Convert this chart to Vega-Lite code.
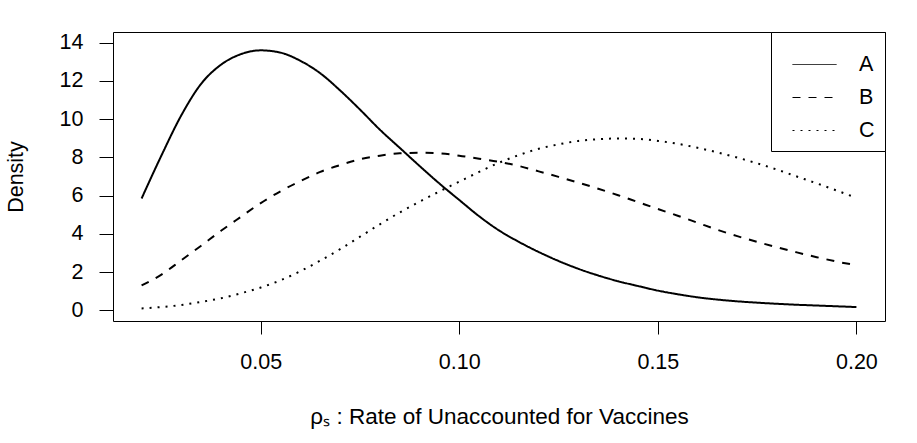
{
  "$schema": "https://vega.github.io/schema/vega-lite/v6.json",
  "width": 772,
  "height": 289,
  "autosize": "none",
  "padding": {"left": 113, "top": 32, "right": 32, "bottom": 122},
  "background": "white",
  "config": {
    "font": "Liberation Sans",
    "view": {"stroke": "black", "strokeWidth": 1},
    "axis": {"grid": false, "domain": false, "tickColor": "black", "labelColor": "black", "titleColor": "black", "labelFontSize": 21.5, "titleFontSize": 21.5, "titleFontWeight": "normal", "labelFont": "Liberation Sans", "titleFont": "Liberation Sans"}
  },
  "data": {"values": [
    {"x":0.020,"y":5.85,"s":"A"},{"x":0.025,"y":8.1,"s":"A"},{"x":0.030,"y":10.2,"s":"A"},{"x":0.035,"y":11.85,"s":"A"},{"x":0.040,"y":12.85,"s":"A"},{"x":0.045,"y":13.4,"s":"A"},{"x":0.050,"y":13.6,"s":"A"},{"x":0.055,"y":13.48,"s":"A"},{"x":0.060,"y":13.05,"s":"A"},{"x":0.065,"y":12.4,"s":"A"},{"x":0.070,"y":11.5,"s":"A"},{"x":0.075,"y":10.5,"s":"A"},{"x":0.080,"y":9.45,"s":"A"},{"x":0.085,"y":8.5,"s":"A"},{"x":0.090,"y":7.55,"s":"A"},{"x":0.095,"y":6.63,"s":"A"},{"x":0.100,"y":5.77,"s":"A"},{"x":0.105,"y":4.92,"s":"A"},{"x":0.110,"y":4.18,"s":"A"},{"x":0.115,"y":3.58,"s":"A"},{"x":0.120,"y":3.05,"s":"A"},{"x":0.125,"y":2.58,"s":"A"},{"x":0.130,"y":2.17,"s":"A"},{"x":0.135,"y":1.82,"s":"A"},{"x":0.140,"y":1.52,"s":"A"},{"x":0.145,"y":1.27,"s":"A"},{"x":0.150,"y":1.03,"s":"A"},{"x":0.155,"y":0.84,"s":"A"},{"x":0.160,"y":0.68,"s":"A"},{"x":0.165,"y":0.56,"s":"A"},{"x":0.170,"y":0.47,"s":"A"},{"x":0.175,"y":0.40,"s":"A"},{"x":0.180,"y":0.34,"s":"A"},{"x":0.185,"y":0.29,"s":"A"},{"x":0.190,"y":0.25,"s":"A"},{"x":0.195,"y":0.21,"s":"A"},{"x":0.200,"y":0.17,"s":"A"},
    {"x":0.020,"y":1.3,"s":"B"},{"x":0.025,"y":1.87,"s":"B"},{"x":0.030,"y":2.62,"s":"B"},{"x":0.035,"y":3.38,"s":"B"},{"x":0.040,"y":4.16,"s":"B"},{"x":0.045,"y":4.89,"s":"B"},{"x":0.050,"y":5.61,"s":"B"},{"x":0.055,"y":6.23,"s":"B"},{"x":0.060,"y":6.76,"s":"B"},{"x":0.065,"y":7.24,"s":"B"},{"x":0.070,"y":7.6,"s":"B"},{"x":0.075,"y":7.9,"s":"B"},{"x":0.080,"y":8.09,"s":"B"},{"x":0.085,"y":8.21,"s":"B"},{"x":0.090,"y":8.24,"s":"B"},{"x":0.095,"y":8.21,"s":"B"},{"x":0.100,"y":8.09,"s":"B"},{"x":0.105,"y":7.93,"s":"B"},{"x":0.110,"y":7.77,"s":"B"},{"x":0.115,"y":7.55,"s":"B"},{"x":0.120,"y":7.27,"s":"B"},{"x":0.125,"y":6.98,"s":"B"},{"x":0.130,"y":6.68,"s":"B"},{"x":0.135,"y":6.36,"s":"B"},{"x":0.140,"y":6.02,"s":"B"},{"x":0.145,"y":5.66,"s":"B"},{"x":0.150,"y":5.3,"s":"B"},{"x":0.155,"y":4.95,"s":"B"},{"x":0.160,"y":4.58,"s":"B"},{"x":0.165,"y":4.21,"s":"B"},{"x":0.170,"y":3.88,"s":"B"},{"x":0.175,"y":3.58,"s":"B"},{"x":0.180,"y":3.3,"s":"B"},{"x":0.185,"y":3.03,"s":"B"},{"x":0.190,"y":2.78,"s":"B"},{"x":0.195,"y":2.55,"s":"B"},{"x":0.200,"y":2.36,"s":"B"},
    {"x":0.020,"y":0.1,"s":"C"},{"x":0.025,"y":0.17,"s":"C"},{"x":0.030,"y":0.28,"s":"C"},{"x":0.035,"y":0.44,"s":"C"},{"x":0.040,"y":0.63,"s":"C"},{"x":0.045,"y":0.89,"s":"C"},{"x":0.050,"y":1.19,"s":"C"},{"x":0.055,"y":1.57,"s":"C"},{"x":0.060,"y":2.05,"s":"C"},{"x":0.065,"y":2.6,"s":"C"},{"x":0.070,"y":3.2,"s":"C"},{"x":0.075,"y":3.85,"s":"C"},{"x":0.080,"y":4.5,"s":"C"},{"x":0.085,"y":5.12,"s":"C"},{"x":0.090,"y":5.68,"s":"C"},{"x":0.095,"y":6.22,"s":"C"},{"x":0.100,"y":6.73,"s":"C"},{"x":0.105,"y":7.24,"s":"C"},{"x":0.110,"y":7.72,"s":"C"},{"x":0.115,"y":8.12,"s":"C"},{"x":0.120,"y":8.45,"s":"C"},{"x":0.125,"y":8.68,"s":"C"},{"x":0.130,"y":8.86,"s":"C"},{"x":0.135,"y":8.95,"s":"C"},{"x":0.140,"y":8.99,"s":"C"},{"x":0.145,"y":8.97,"s":"C"},{"x":0.150,"y":8.86,"s":"C"},{"x":0.155,"y":8.71,"s":"C"},{"x":0.160,"y":8.5,"s":"C"},{"x":0.165,"y":8.26,"s":"C"},{"x":0.170,"y":7.99,"s":"C"},{"x":0.175,"y":7.69,"s":"C"},{"x":0.180,"y":7.36,"s":"C"},{"x":0.185,"y":7.0,"s":"C"},{"x":0.190,"y":6.64,"s":"C"},{"x":0.195,"y":6.27,"s":"C"},{"x":0.200,"y":5.88,"s":"C"}
  ]},
  "mark": {"type": "line", "color": "black", "strokeWidth": 2, "interpolate": "monotone"},
  "encoding": {
    "x": {"field": "x", "type": "quantitative",
      "scale": {"domain": [0.0128, 0.2072], "nice": false, "zero": false},
      "axis": {"values": [0.05, 0.1, 0.15, 0.2], "format": ".2f", "tickSize": 13, "labelPadding": 17, "title": "ρₛ : Rate of Unaccounted for Vaccines", "titleFontSize": 22.5, "titlePadding": 33}},
    "y": {"field": "y", "type": "quantitative",
      "scale": {"domain": [-0.56, 14.56], "nice": false, "zero": false},
      "axis": {"values": [0, 2, 4, 6, 8, 10, 12, 14], "tickSize": 14, "labelPadding": 16, "title": "Density", "titlePadding": 32}},
    "strokeDash": {"field": "s", "type": "nominal",
      "scale": {"domain": ["A", "B", "C"], "range": [[1, 0], [8, 8], [2, 6]]},
      "legend": {"title": null, "orient": "none", "legendX": 658, "legendY": 0,
        "strokeColor": "black", "fillColor": "white", "padding": 10, "cornerRadius": 0,
        "symbolType": "stroke", "symbolSize": 1936, "symbolStrokeWidth": 1, "symbolStrokeColor": "black", "symbolOffset": 11,
        "labelFontSize": 21.5, "labelColor": "black", "labelOffset": 22, "rowPadding": -13,
        "encode": {"symbols": {"update": {"strokeDash": {"signal": "datum.value == 'A' ? [1,0] : datum.value == 'B' ? [4,4] : [1,3]"}}}}}}
  }
}
